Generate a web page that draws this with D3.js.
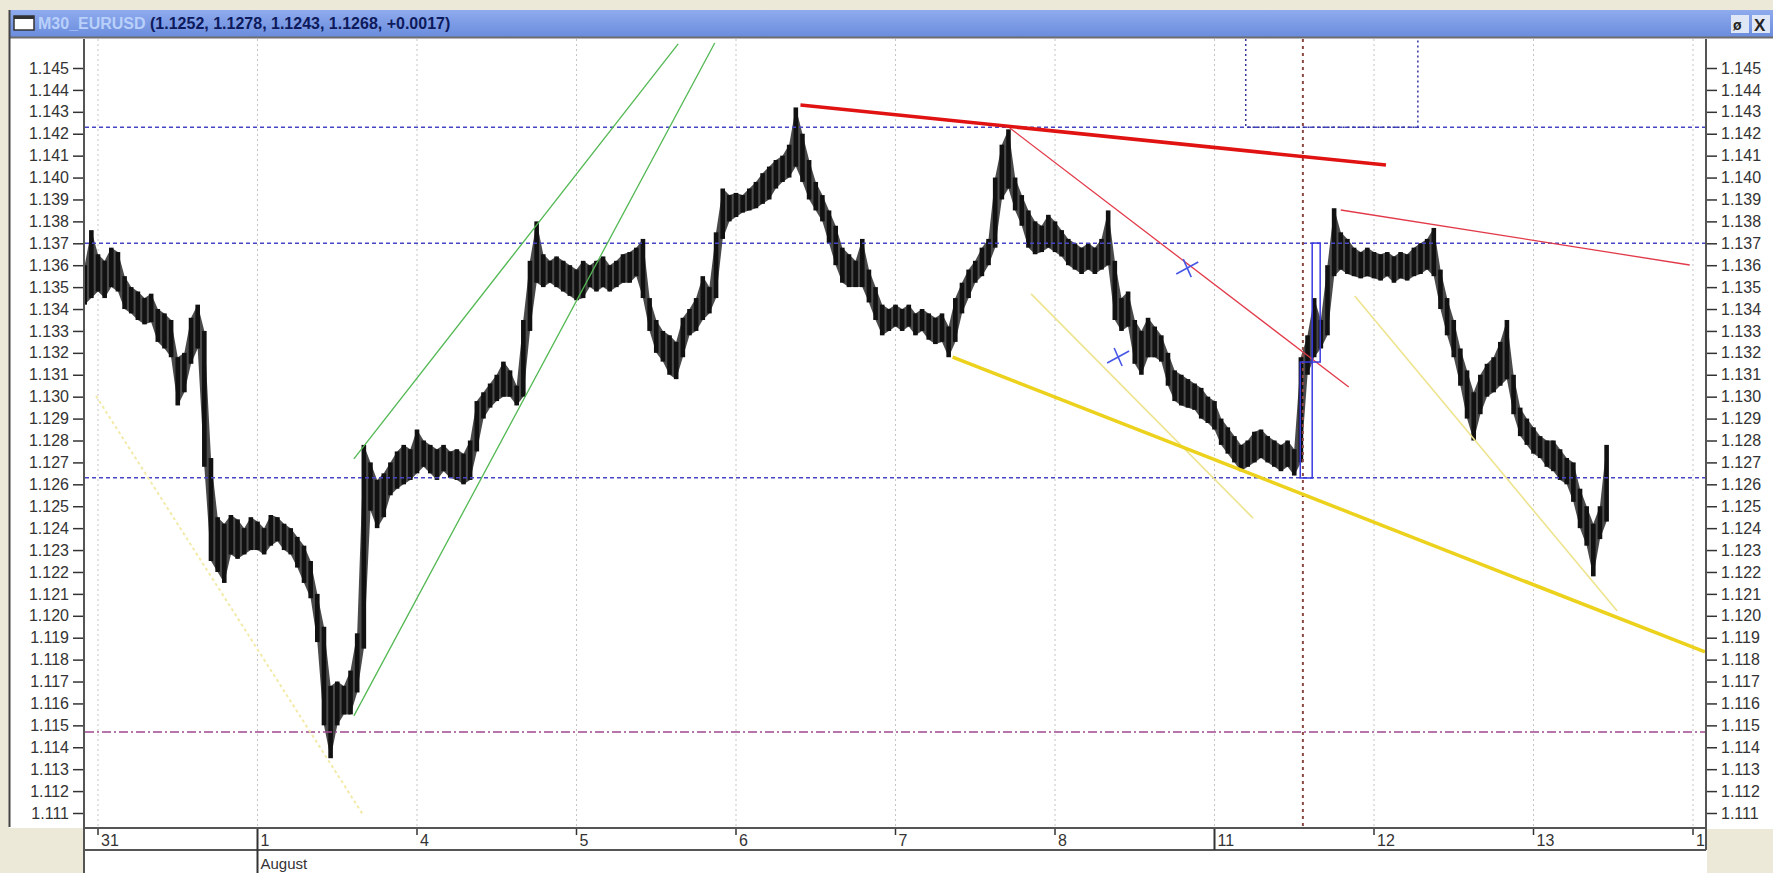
<!DOCTYPE html>
<html>
<head>
<meta charset="utf-8">
<script src="https://d3js.org/d3.v7.min.js"></script>
<style>
body { margin: 0; background: #ece9d8; }
svg { display: block; font-family: "Liberation Sans", Arial, sans-serif; }
</style>
</head>
<body>
<script>
// M30 EURUSD, hourly high/low (hour 0 = 31 Jul 00:00, trading hours only)
var dayLabels = ["31", "1", "4", "5", "6", "7", "8", "11", "12", "13", "14"];
var firstHour = -2;
var barHigh = [1.1360, 1.1376,
  1.1365, 1.1362, 1.1368, 1.1366, 1.1355, 1.1350, 1.1348, 1.1345, 1.1347, 1.1340,
  1.1338, 1.1335, 1.1318, 1.1320, 1.1336, 1.1342, 1.1330, 1.1272, 1.1245, 1.1242,
  1.1246, 1.1244, 1.1240, 1.1245, 1.1243, 1.1240, 1.1246, 1.1245, 1.1242, 1.1240,
  1.1236, 1.1232, 1.1225, 1.1210, 1.1195, 1.1168, 1.1170, 1.1168, 1.1175, 1.1192,
  1.1278, 1.1270, 1.1262, 1.1265, 1.1270, 1.1275, 1.1278, 1.1276, 1.1285, 1.1280,
  1.1278, 1.1276, 1.1278, 1.1275, 1.1276, 1.1274, 1.1280, 1.1298, 1.1302, 1.1306,
  1.1310, 1.1316, 1.1312, 1.1305, 1.1335, 1.1362, 1.1380, 1.1365, 1.1362, 1.1364,
  1.1362, 1.1360, 1.1358, 1.1362, 1.1360, 1.1362, 1.1364, 1.1360, 1.1362, 1.1365,
  1.1366, 1.1368, 1.1372, 1.1345, 1.1335, 1.1330, 1.1328, 1.1325, 1.1336, 1.1340,
  1.1345, 1.1355, 1.1350, 1.1375, 1.1395, 1.1392, 1.1393, 1.1392, 1.1395, 1.1398,
  1.1402, 1.1405, 1.1408, 1.1410, 1.1415, 1.1432, 1.1420, 1.1408, 1.1398, 1.1392,
  1.1385, 1.1378, 1.1368, 1.1365, 1.1362, 1.1372, 1.1358, 1.1350, 1.1342, 1.1340,
  1.1342, 1.1340, 1.1342, 1.1338, 1.1340, 1.1338, 1.1336, 1.1338, 1.1332, 1.1345,
  1.1352, 1.1358, 1.1362, 1.1368, 1.1372, 1.1400, 1.1415, 1.1422, 1.1400, 1.1392,
  1.1385, 1.1380, 1.1378, 1.1383, 1.1380, 1.1376, 1.1372, 1.1370, 1.1368, 1.1370,
  1.1368, 1.1372, 1.1385, 1.1362, 1.1345, 1.1348, 1.1335, 1.1330, 1.1336, 1.1332,
  1.1328, 1.1320, 1.1312, 1.1310, 1.1308, 1.1306, 1.1304, 1.1300, 1.1298, 1.1290,
  1.1286, 1.1282, 1.1278, 1.1280, 1.1284, 1.1285, 1.1282, 1.1280, 1.1278, 1.1280,
  1.1276, 1.1318, 1.1328, 1.1345, 1.1335, 1.1360, 1.1386, 1.1375, 1.1372, 1.1368,
  1.1366, 1.1368, 1.1366, 1.1365, 1.1366, 1.1364, 1.1366, 1.1365, 1.1368, 1.1370,
  1.1372, 1.1377, 1.1358, 1.1345, 1.1335, 1.1322, 1.1312, 1.1302, 1.1310, 1.1315,
  1.1318, 1.1325, 1.1335, 1.1310, 1.1295, 1.1290, 1.1286, 1.1282, 1.1280, 1.1280,
  1.1276, 1.1272, 1.1270, 1.1258, 1.1250, 1.1242, 1.1250, 1.1278];
var barLow = [1.1342, 1.1345,
  1.1348, 1.1345, 1.1350, 1.1348, 1.1340, 1.1338, 1.1335, 1.1333, 1.1334, 1.1325,
  1.1322, 1.1318, 1.1296, 1.1302, 1.1315, 1.1322, 1.1268, 1.1225, 1.1220, 1.1215,
  1.1228, 1.1226, 1.1228, 1.1230, 1.1230, 1.1228, 1.1232, 1.1234, 1.1230, 1.1228,
  1.1222, 1.1215, 1.1208, 1.1188, 1.1150, 1.1135, 1.1150, 1.1155, 1.1155, 1.1165,
  1.1185, 1.1248, 1.1240, 1.1245, 1.1255, 1.1258, 1.1260, 1.1262, 1.1265, 1.1268,
  1.1265, 1.1262, 1.1266, 1.1263, 1.1262, 1.1260, 1.1262, 1.1275, 1.1290, 1.1295,
  1.1298, 1.1300, 1.1300, 1.1296, 1.1300, 1.1330, 1.1352, 1.1350, 1.1352, 1.1350,
  1.1348, 1.1346, 1.1344, 1.1345, 1.1350, 1.1348, 1.1350, 1.1348, 1.1350, 1.1352,
  1.1352, 1.1355, 1.1345, 1.1330, 1.1320, 1.1316, 1.1310, 1.1308, 1.1318, 1.1328,
  1.1330, 1.1335, 1.1338, 1.1345, 1.1372, 1.1380, 1.1382, 1.1384, 1.1385, 1.1386,
  1.1388, 1.1390, 1.1395, 1.1398, 1.1400, 1.1405, 1.1398, 1.1390, 1.1385, 1.1380,
  1.1370, 1.1360, 1.1352, 1.1350, 1.1350, 1.1350, 1.1343, 1.1335, 1.1328, 1.1330,
  1.1332, 1.1330, 1.1332, 1.1328, 1.1330, 1.1326, 1.1324, 1.1325, 1.1318, 1.1325,
  1.1338, 1.1345, 1.1352, 1.1355, 1.1360, 1.1368, 1.1390, 1.1395, 1.1385, 1.1378,
  1.1368, 1.1365, 1.1366, 1.1368, 1.1366, 1.1364, 1.1360, 1.1358, 1.1356, 1.1358,
  1.1356, 1.1358, 1.1360, 1.1335, 1.1330, 1.1332, 1.1315, 1.1310, 1.1318, 1.1318,
  1.1316, 1.1305, 1.1298, 1.1296, 1.1295, 1.1294, 1.1290, 1.1288, 1.1285, 1.1278,
  1.1274, 1.1270, 1.1266, 1.1268, 1.1270, 1.1272, 1.1270, 1.1268, 1.1266, 1.1268,
  1.1264, 1.1270, 1.1310, 1.1318, 1.1322, 1.1328, 1.1355, 1.1358, 1.1356, 1.1355,
  1.1354, 1.1355, 1.1354, 1.1353, 1.1355, 1.1352, 1.1354, 1.1353, 1.1355, 1.1356,
  1.1358, 1.1355, 1.1340, 1.1328, 1.1318, 1.1305, 1.1290, 1.1280, 1.1292, 1.1300,
  1.1302, 1.1305, 1.1308, 1.1292, 1.1282, 1.1278, 1.1274, 1.1272, 1.1268, 1.1266,
  1.1262, 1.1260, 1.1252, 1.1240, 1.1232, 1.1218, 1.1235, 1.1243];

var priceTicks = d3.range(1111, 1146).map(function(d){ return d / 1000; });
var levels = [1.1423, 1.1370, 1.1263];
var supportLevel = 1.1147;
// drawn objects: [hour1, price1, hour2, price2]
var redThick = [[105.7, 1.14331, 193.8, 1.14057]];
var redThin = [[137.2, 1.14226, 188.2, 1.13044], [187.0, 1.13852, 239.5, 1.13601]];
var yellowThick = [[128.6, 1.13181, 241.8, 1.11835]];
var yellowThin = [[140.4, 1.13469, 173.8, 1.12446], [189.1, 1.13459, 228.6, 1.12022]];
var yellowDotted = [[-0.3, 1.13003, 40.0, 1.11086]];
var greenLines = [[38.5, 1.12716, 87.3, 1.14610], [38.5, 1.11543, 92.8, 1.14614]];
var crossMarks = [[163.9, 1.13587], [153.5, 1.13181]];
var blueBoxes = [[180.9, 1.13158, 182.7, 1.12629], [182.7, 1.13701, 183.9, 1.13158]];
var topBox = [172.7, 198.6, 1.1423];
var markerHour = 181.3;

var W = 1773, H = 873;
var L = 85, R = 1705, T = 39, B = 827;

var x = d3.scaleLinear().domain([0, 240]).range([98, 1693]);
var y = d3.scaleLinear().domain([1.111, 1.145]).range([813, 68]);

var svg = d3.select("body").append("svg")
  .attr("width", W).attr("height", H);

svg.append("rect").attr("width", W).attr("height", H).attr("fill", "#ece9d8");

// window
svg.append("rect").attr("x", 9).attr("y", 10).attr("width", W - 9).attr("height", H - 10).attr("fill", "#fff");
var grad = svg.append("defs").append("linearGradient").attr("id", "tb").attr("x1", 0).attr("y1", 0).attr("x2", 0).attr("y2", 1);
grad.append("stop").attr("offset", "0%").attr("stop-color", "#8fabee");
grad.append("stop").attr("offset", "100%").attr("stop-color", "#6a8cdc");
svg.select("defs").append("clipPath").attr("id", "plot")
  .append("rect").attr("x", L).attr("y", T).attr("width", R - L).attr("height", B - T);
svg.select("defs").append("clipPath").attr("id", "axisrow")
  .append("rect").attr("x", L).attr("y", B).attr("width", R - L).attr("height", H - B);

svg.append("rect").attr("x", 9).attr("y", 10).attr("width", W - 9).attr("height", 27).attr("fill", "url(#tb)");
svg.append("line").attr("x1", 9).attr("x2", W).attr("y1", 37.5).attr("y2", 37.5).attr("stroke", "#6d6d6d").attr("stroke-width", 2);
svg.append("rect").attr("x", 14).attr("y", 16).attr("width", 20).attr("height", 14).attr("fill", "#fff").attr("stroke", "#333").attr("stroke-width", 1.5);
svg.append("rect").attr("x", 14).attr("y", 16).attr("width", 20).attr("height", 3).attr("fill", "#333");
var title = svg.append("text").attr("x", 38).attr("y", 29).attr("font-size", 16).attr("font-weight", "bold");
title.append("tspan").attr("fill", "#b9d0fa").text("M30_EURUSD ");
title.append("tspan").attr("fill", "#0d1a5c").text("(1.1252, 1.1278, 1.1243, 1.1268, +0.0017)");
svg.append("rect").attr("x", 1731).attr("y", 15).attr("width", 18).attr("height", 18).attr("fill", "#dfe6f5");
svg.append("text").attr("x", 1733).attr("y", 30).attr("font-size", 14).attr("font-weight", "bold").attr("fill", "#222").text("ø");
svg.append("rect").attr("x", 1752).attr("y", 15).attr("width", 18).attr("height", 18).attr("fill", "#dfe6f5");
svg.append("text").attr("x", 1754).attr("y", 31).attr("font-size", 17).attr("font-weight", "bold").attr("fill", "#222").text("X");

// beige corners under the side panels
svg.append("rect").attr("x", 9).attr("y", B + 1).attr("width", L - 9).attr("height", H - B).attr("fill", "#ece9d8");
svg.append("rect").attr("x", R + 2).attr("y", B + 2).attr("width", W - R).attr("height", H - B).attr("fill", "#ece9d8");
svg.append("line").attr("x1", 9.5).attr("x2", 9.5).attr("y1", 10).attr("y2", B).attr("stroke", "#444").attr("stroke-width", 2);

// day grid
var days = dayLabels.map(function(d, i){ return { label: d, h: i * 24 }; });
svg.append("g").selectAll("line").data(days).enter().append("line")
  .attr("x1", function(d){ return x(d.h); }).attr("x2", function(d){ return x(d.h); })
  .attr("y1", T).attr("y2", B)
  .attr("stroke", "#c4c4c4").attr("stroke-dasharray", "2,3");

var plot = svg.append("g").attr("clip-path", "url(#plot)");

// price bars: a grey band joining the hours, black bars on top
var bars = barHigh.map(function(hi, i){ return { h: firstHour + i, hi: hi, lo: barLow[i] }; });
plot.append("path")
  .datum(bars)
  .attr("d", d3.area()
    .x(function(d){ return x(d.h); })
    .y0(function(d){ return y(d.lo); })
    .y1(function(d){ return y(d.hi); }))
  .attr("fill", "#4a4a4a");
plot.append("g").selectAll("rect").data(bars).enter().append("rect")
  .attr("x", function(d){ return x(d.h) - 2.3; })
  .attr("width", 4.6)
  .attr("y", function(d){ return y(d.hi); })
  .attr("height", function(d){ return y(d.lo) - y(d.hi); })
  .attr("fill", "#111");

// horizontal levels
plot.append("g").selectAll("line").data(levels).enter().append("line")
  .attr("x1", L).attr("x2", R)
  .attr("y1", function(d){ return y(d); }).attr("y2", function(d){ return y(d); })
  .attr("stroke", "#4646c4").attr("stroke-width", 1.5).attr("stroke-dasharray", "4,3");
plot.append("line")
  .attr("x1", L).attr("x2", R).attr("y1", y(supportLevel)).attr("y2", y(supportLevel))
  .attr("stroke", "#a04890").attr("stroke-width", 1.5).attr("stroke-dasharray", "9,3,2,3");

// blue dotted box at the top and the brown time marker
plot.append("path")
  .attr("d", "M" + x(topBox[0]) + "," + T + "V" + y(topBox[2]) + "H" + x(topBox[1]) + "V" + T)
  .attr("fill", "none").attr("stroke", "#34349c").attr("stroke-width", 1.5).attr("stroke-dasharray", "2,3");
plot.append("line")
  .attr("x1", x(markerHour)).attr("x2", x(markerHour)).attr("y1", T).attr("y2", B)
  .attr("stroke", "#8c4a44").attr("stroke-width", 2).attr("stroke-dasharray", "3,4");

function drawLines(list, color, width, dash) {
  plot.append("g").selectAll("line").data(list).enter().append("line")
    .attr("x1", function(d){ return x(d[0]); }).attr("y1", function(d){ return y(d[1]); })
    .attr("x2", function(d){ return x(d[2]); }).attr("y2", function(d){ return y(d[3]); })
    .attr("stroke", color).attr("stroke-width", width)
    .attr("stroke-dasharray", dash || null);
}
drawLines(greenLines, "#52b852", 1.3);
drawLines(yellowDotted, "#f2eaa8", 2, "3,3");
drawLines(yellowThin, "#eee48e", 1.6);
drawLines(yellowThick, "#ecd21c", 3.5);
drawLines(redThin, "#e23a4a", 1.3);
drawLines(redThick, "#e01212", 3.5);

plot.append("g").selectAll("rect").data(blueBoxes).enter().append("rect")
  .attr("x", function(d){ return x(d[0]); })
  .attr("y", function(d){ return y(d[1]); })
  .attr("width", function(d){ return x(d[2]) - x(d[0]); })
  .attr("height", function(d){ return y(d[3]) - y(d[1]); })
  .attr("fill", "none").attr("stroke", "#3a3ae0").attr("stroke-width", 1.5);

var crosses = plot.append("g").selectAll("g").data(crossMarks).enter().append("g")
  .attr("transform", function(d){ return "translate(" + x(d[0]) + "," + y(d[1]) + ")"; })
  .attr("stroke", "#4656e6").attr("stroke-width", 1.6);
crosses.append("line").attr("x1", -11).attr("y1", 6).attr("x2", 11).attr("y2", -6);
crosses.append("line").attr("x1", -4).attr("y1", -9).attr("x2", 4).attr("y2", 9);

// price axes
var minorTicks = d3.range(5555, 5726).map(function(d){ return d / 5000; });
function priceAxis(axis, pos) {
  var g = svg.append("g").attr("transform", "translate(" + pos + ",0)");
  g.call(axis(y).tickValues(minorTicks).tickSize(5).tickFormat(""));
  g.call(axis(y).tickValues(priceTicks).tickSize(12).tickPadding(4).tickFormat(d3.format(".3f")));
  g.selectAll(".domain").remove();
  g.selectAll("line").attr("stroke", "#333").attr("stroke-width", 1.5);
  g.selectAll("text").attr("font-size", 16).attr("fill", "#333")
    .attr("font-family", "'Liberation Sans', Arial, sans-serif");
}
priceAxis(d3.axisLeft, L);
priceAxis(d3.axisRight, R);

svg.append("line").attr("x1", L - 1).attr("x2", L - 1).attr("y1", T).attr("y2", H).attr("stroke", "#555").attr("stroke-width", 2);
svg.append("line").attr("x1", R + 1).attr("x2", R + 1).attr("y1", T).attr("y2", 850).attr("stroke", "#555").attr("stroke-width", 2);

// time axis rows
svg.append("line").attr("x1", L).attr("x2", R + 1).attr("y1", B + 1).attr("y2", B + 1).attr("stroke", "#555").attr("stroke-width", 2);
svg.append("line").attr("x1", L).attr("x2", R + 1).attr("y1", 850).attr("y2", 850).attr("stroke", "#555").attr("stroke-width", 2);
var timeAxis = svg.append("g").attr("clip-path", "url(#axisrow)");
timeAxis.selectAll("line.tick").data(days).enter().append("line")
  .attr("x1", function(d){ return x(d.h); }).attr("x2", function(d){ return x(d.h); })
  .attr("y1", B + 2).attr("y2", function(d){ return d.label === "1" ? H : (d.label === "11" ? 850 : B + 8); })
  .attr("stroke", "#333").attr("stroke-width", function(d){ return (d.label === "1" || d.label === "11") ? 2 : 1.5; });
timeAxis.selectAll("text.day").data(days).enter().append("text")
  .attr("x", function(d){ return x(d.h) + 3; }).attr("y", 846)
  .attr("font-size", 16).attr("fill", "#333")
  .text(function(d){ return d.label; });
timeAxis.append("text").attr("x", x(24) + 3).attr("y", 869).attr("font-size", 15).attr("fill", "#333").text("August");
</script>
</body>
</html>
